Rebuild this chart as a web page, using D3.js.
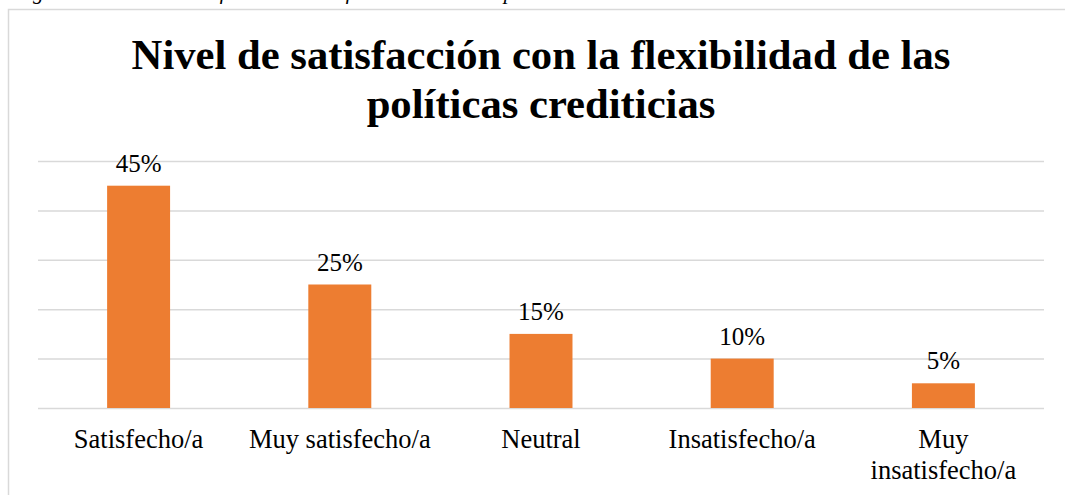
<!DOCTYPE html>
<html lang="es">
<head>
<meta charset="utf-8">
<script src="https://cdn.jsdelivr.net/npm/d3@7"></script>
<style>
  html, body { margin: 0; padding: 0; background: #ffffff; }
  svg { display: block; }
  text { font-family: "Liberation Serif", "Times New Roman", serif; fill: #000; }
</style>
</head>
<body>
<svg id="chart" width="1065" height="495"></svg>
<script>
// Satisfaction with the flexibility of credit policies (% of respondents)
const categories = ["Satisfecho/a", "Muy satisfecho/a", "Neutral", "Insatisfecho/a", "Muy insatisfecho/a"];
const categoryLines = [["Satisfecho/a"], ["Muy satisfecho/a"], ["Neutral"], ["Insatisfecho/a"], ["Muy", "insatisfecho/a"]];
const values = [45, 25, 15, 10, 5];
const valueLabels = ["45%", "25%", "15%", "10%", "5%"];
const gridTicks = [0, 10, 20, 30, 40, 50];
const titleLines = ["Nivel de satisfacción con la flexibilidad de las", "políticas crediticias"];
const captionText = "Figura 12 Nivel de satisfacción con la flexibilidad de las políticas crediticias";

const svg = d3.select("#chart");

// Caption line above the chart frame (only its descenders fall inside the page)
svg.append("text")
  .attr("x", 14)
  .attr("y", -1.5)
  .style("font-style", "italic")
  .style("font-size", "21.3px")
  .text(captionText);

// Chart frame
svg.append("rect")
  .attr("x", 8.5).attr("y", 9.5)
  .attr("width", 1100).attr("height", 600)
  .attr("fill", "none")
  .attr("stroke", "#d9d9d9")
  .attr("stroke-width", 1.5);

// Title
const title = svg.append("text")
  .attr("text-anchor", "middle")
  .style("font-weight", "bold")
  .style("font-size", "42.67px");
titleLines.forEach((line, i) => {
  title.append("tspan")
    .attr("x", 541)
    .attr("y", 69 + i * 49)
    .text(line);
});

// Plot area
const plot = { left: 38, right: 1044, top: 161, bottom: 408 };

const x = d3.scaleBand()
  .domain(categories)
  .range([plot.left, plot.right])
  .paddingInner(0.687)
  .paddingOuter(0.3435);

const y = d3.scaleLinear()
  .domain([0, 50])
  .range([plot.bottom, plot.top]);

// Horizontal gridlines
const grid = d3.axisLeft(y)
  .tickValues(gridTicks)
  .tickSize(-(plot.right - plot.left))
  .tickFormat("");
const gridG = svg.append("g")
  .attr("transform", `translate(${plot.left},0)`)
  .call(grid);
gridG.select(".domain").remove();
gridG.selectAll(".tick line")
  .attr("stroke", "#d9d9d9")
  .attr("stroke-width", 1.5);

// Bars
svg.append("g")
  .selectAll("rect")
  .data(values)
  .join("rect")
  .attr("x", (d, i) => x(categories[i]))
  .attr("y", d => y(d))
  .attr("width", x.bandwidth())
  .attr("height", d => y(0) - y(d))
  .attr("fill", "#ED7D31");

// Value labels
svg.append("g")
  .selectAll("text")
  .data(values)
  .join("text")
  .attr("text-anchor", "middle")
  .attr("x", (d, i) => x(categories[i]) + x.bandwidth() / 2)
  .attr("y", d => y(d) - 14)
  .style("font-size", "25px")
  .text((d, i) => valueLabels[i]);

// Category labels
const catG = svg.append("g");
categories.forEach((c, i) => {
  const t = catG.append("text")
    .attr("text-anchor", "middle")
    .style("font-size", "26.5px");
  categoryLines[i].forEach((line, j) => {
    t.append("tspan")
      .attr("x", x(c) + x.bandwidth() / 2)
      .attr("y", 448 + j * 30.5)
      .text(line);
  });
});
</script>
</body>
</html>
